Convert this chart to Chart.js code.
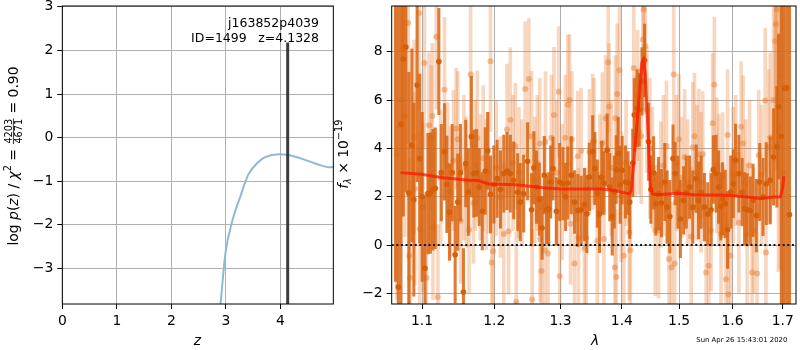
<!DOCTYPE html>
<html>
<head>
<meta charset="utf-8">
<script src="https://cdn.jsdelivr.net/npm/chart.js@4.4.1/dist/chart.umd.min.js"></script>
<style>
  html, body { margin: 0; padding: 0; background: #fff; }
  #wrap { position: relative; width: 800px; height: 350px; overflow: hidden; }
  #pzBox { position: absolute; left: 0; top: 0; width: 340px; height: 350px; }
  #specBox { position: absolute; left: 330px; top: 0; width: 470px; height: 350px; }
</style>
</head>
<body>
<div id="wrap">
  <div id="pzBox"><canvas id="pzChart" width="340" height="350"></canvas></div>
  <div id="specBox"><canvas id="specChart" width="470" height="350"></canvas></div>
</div>
<script>
const FONT = "'DejaVu Sans', sans-serif";

// ---- redshift probability panel ----
const Z_GRID = [2.80, 2.90, 2.99, 3.12, 3.26, 3.41, 3.57, 3.72, 3.97, 4.15, 4.40, 4.65, 4.90, 5.02];
const LOG_PZ = [-5.0, -3.83, -2.67, -1.90, -1.37, -0.85, -0.59, -0.45, -0.38, -0.40, -0.49, -0.60, -0.68, -0.66];
const Z_BEST = 4.1328;
const PZ_PEAK = 2.18;
const Z_RANGE = [0, 4.97];
const LOGP_RANGE = [-3.82, 3.02];
const Z_TICKS = [0, 1, 2, 3, 4];
const LOGP_TICKS = [-3, -2, -1, 0, 1, 2, 3];

// ---- spectrum panel (flux in 1e-19 units) ----
const WAVE_DARK = [1.0652,1.0688,1.0723,1.0753,1.0787,1.0826,1.0865,1.0891,1.0934,1.0969,
  1.1002,1.1039,1.1078,1.1110,1.1145,1.1177,1.1225,1.1258,1.1302,1.1334,
  1.1370,1.1407,1.1448,1.1484,1.1521,1.1563,1.1595,1.1632,1.1674,1.1709,
  1.1748,1.1786,1.1829,1.1871,1.1907,1.1947,1.1996,1.2043,1.2091,1.2140,
  1.2188,1.2236,1.2286,1.2345,1.2383,1.2434,1.2494,1.2554,1.2589,1.2629,
  1.2672,1.2714,1.2748,1.2781,1.2816,1.2847,1.2883,1.2935,1.2987,1.3038,
  1.3080,1.3116,1.3170,1.3222,1.3274,1.3328,1.3381,1.3421,1.3461,1.3515,
  1.3550,1.3591,1.3628,1.3664,1.3700,1.3754,1.3796,1.3837,1.3871,1.3904,
  1.3937,1.3970,1.4004,1.4059,1.4104,1.4133,1.4184,1.4211,1.4257,1.4296,
  1.4343,1.4389,1.4458,1.4498,1.4545,1.4585,1.4632,1.4685,1.4743,1.4784,
  1.4832,1.4891,1.4930,1.4979,1.5023,1.5083,1.5131,1.5191,1.5251,1.5313,
  1.5356,1.5405,1.5467,1.5528,1.5591,1.5634,1.5685,1.5734,1.5775,1.5809,
  1.5860,1.5904,1.5965,1.6013,1.6057,1.6122,1.6186,1.6234,1.6283,1.6348,
  1.6401,1.6465,1.6533,1.6598,1.6664,1.6744,1.6812,1.6879,1.6913,1.6970,
  1.7027,1.7082,1.7138];
const FLUX_DARK = [10.5,-1.74,5.0,7.7,8.2,2.15,4.13,1.88,6.63,3.58,
  2.0,-0.96,2.13,2.15,2.29,2.35,7.6,3.0,3.86,2.51,
  1.36,3.0,-0.4,1.78,3.0,-1.94,3.38,2.2,4.49,2.96,
  2.99,2.4,1.40,3.07,3.9,2.1,2.51,2.75,2.3,2.96,
  3.07,2.96,2.68,2.19,1.78,2.13,3.47,1.46,3.2,2.4,
  1.9,0.71,2.9,1.46,1.5,2.61,3.17,1.40,2.61,2.54,
  2.0,2.57,2.89,1.78,1.43,1.46,1.68,1.29,2.82,3.86,
  3.17,2.13,1.29,2.8,2.57,3.93,2.4,1.18,2.2,3.13,
  3.79,2.5,3.10,2.61,2.57,1.78,3.40,5.39,5.67,5.6,
  6.78,7.65,4.28,2.3,2.99,1.71,2.13,1.74,2.61,1.57,
  1.18,3.58,2.96,2.19,1.08,1.85,2.19,2.40,1.57,2.75,
  1.85,2.19,1.57,1.29,1.46,3.13,2.96,2.40,1.6,1.92,
  1.71,0.63,2.2,2.54,3.51,2.96,2.19,1.5,1.46,1.43,
  1.85,1.22,2.61,1.99,2.54,2.68,3.65,4.07,5.74,4.5,
  6.5,6.5,1.26];
const ERR_DARK = [12,12,10,6.5,6,5,4,4,4,3.5,
  3.5,3,2.5,2.5,2.5,2.5,2.2,2,2,2,
  2,2,2,2,2,1.8,1.8,1.8,2.5,1.8,
  1.8,1.6,1.6,1.8,1.6,1.6,1.6,1.6,1.6,1.6,
  1.6,1.6,1.6,1.6,1.6,1.6,1.6,1.5,1.5,1.5,
  1.5,1.3,1.6,1.4,1.5,1.5,1.3,1.4,1.6,1.5,
  1.4,1.5,1.6,1.3,1.5,1.4,1.5,1.6,1.4,1.5,
  1.5,1.4,1.6,1.5,1.3,1.5,1.4,1.6,1.5,1.4,
  1.5,1.6,1.4,1.5,1.3,1.5,1.4,1.5,1.6,1.5,
  1.4,1.5,1.6,1.4,1.5,1.3,1.5,1.4,1.6,1.5,
  1.5,1.4,1.3,1.5,1.6,1.4,1.5,1.3,1.5,1.4,
  1.6,1.5,1.4,1.3,1.5,1.4,1.6,1.5,1.4,1.5,
  1.4,1.6,1.5,1.4,1.5,1.6,1.4,1.5,1.5,1.4,
  1.5,1.5,1.6,1.6,1.7,1.8,2.0,2.5,3,8,
  12,12,12];

const WAVE_LIGHT = [1.0668,1.0723,1.0753,1.0774,1.0817,1.0830,1.0839,1.0895,1.0904,1.0960,
  1.0969,1.1013,1.1031,1.1058,1.1092,1.1124,1.1137,1.1145,1.1191,1.1212,
  1.1249,1.1302,1.1343,1.1384,1.1425,1.1462,1.1484,1.1525,1.1570,1.1604,
  1.1642,1.1664,1.1702,1.1730,1.1758,1.1800,1.1843,1.1885,1.1914,1.1947,
  1.1964,1.1986,1.2029,1.2091,1.2140,1.2188,1.2210,1.2236,1.2276,1.2310,
  1.2324,1.2364,1.2409,1.2458,1.2513,1.2554,1.2563,1.2604,1.2641,1.2679,
  1.2687,1.2705,1.2755,1.2766,1.2805,1.2858,1.2898,1.2940,1.2971,1.2987,
  1.3026,1.3075,1.3116,1.3143,1.3159,1.3179,1.3222,1.3274,1.3285,1.3328,
  1.3381,1.3408,1.3461,1.3515,1.3537,1.3591,1.3632,1.3673,1.3700,1.3727,
  1.3771,1.3783,1.3821,1.3882,1.3892,1.3904,1.3920,1.3959,1.3987,1.4032,
  1.4071,1.4126,1.4143,1.4201,1.4223,1.4266,1.4291,1.4331,1.4360,1.4372,
  1.4400,1.4429,1.4481,1.4524,1.4573,1.4632,1.4673,1.4717,1.4773,1.4819,
  1.4862,1.4903,1.4921,1.4956,1.4998,1.5047,1.5101,1.5155,1.5222,1.5251,
  1.5282,1.5328,1.5361,1.5402,1.5435,1.5498,1.5546,1.5591,1.5621,1.5653,
  1.5700,1.5737,1.5779,1.5809,1.5873,1.5904,1.5917,1.5961,1.6013,1.6060,
  1.6122,1.6166,1.6205,1.6254,1.6283,1.6332,1.6381,1.6411,1.6479,1.6513,
  1.6569,1.6644,1.6658,1.6712,1.6744,1.6812,1.6844,1.6858,1.6879,1.6909,
  1.6950,1.7001];
const FLUX_LIGHT = [3.76,6.0,8.13,5.35,9.2,-0.44,-1.35,4.49,2.33,9.6,
  0.67,1.57,7.54,-1.35,4.96,4.43,5.35,0.74,8.63,-2.15,
  2.8,6.43,3.3,2.2,3.5,4.83,4.38,1.01,3.2,2.6,
  0.63,7.06,1.74,3.3,4.42,2.8,3.6,2.5,3.0,7.61,
  -0.72,-0.26,3.2,1.99,0.46,4.79,0.57,5.18,3.4,4.10,
  -2.35,3.0,2.6,6.46,6.88,4.51,-2.25,2.7,3.4,4.21,
  0.25,-1.07,-0.21,4.28,-0.35,4.44,5.39,3.0,6.35,-1.29,
  2.2,4.44,5.81,6.01,0.88,4.38,-0.76,3.68,0.29,3.90,
  -0.13,0.29,3.86,4.28,4.31,0.18,2.9,4.24,0.25,5.25,
  7.57,5.74,3.2,-0.93,5.25,-1.32,6.26,7.24,2.0,-0.44,
  3.4,0.53,-0.21,7.33,4.5,6.2,4.7,4.51,8.51,9.76,
  8.24,5.6,4.0,3.2,0.60,0.60,2.5,3.3,4.10,-0.58,
  -0.93,7.06,-0.76,3.4,4.38,2.8,3.65,2.6,0.35,4.04,
  4.51,3.0,3.76,2.6,3.76,-1.14,-0.86,0.60,5.04,6.64,
  3.3,2.7,0.46,2.89,-1.42,4.56,-2.04,-0.44,2.9,3.5,
  0.94,4.9,4.21,2.6,0.46,3.3,-1.14,0.60,-1.18,3.72,
  2.9,5.99,-0.31,4.07,4.46,6.01,8.44,9.14,9.76,4.9,
  7.0,3.0];
const ERR_LIGHT = [6,6,5,5,5,4,4,4,4,4,
  4,3.5,3.5,3.5,3,3,3,3,3,3,
  2.8,3.0,2.6,2.7,2.9,2.5,2.8,2.6,3.0,2.7,
  2.6,2.9,2.5,2.7,2.8,2.6,3.0,2.7,2.5,2.9,
  2.7,2.6,2.8,2.5,2.9,2.7,2.6,3.0,2.8,2.6,
  2.9,2.7,2.6,2.8,2.5,2.7,2.9,2.6,2.8,2.7,
  2.6,2.8,2.5,2.9,2.7,2.6,2.8,3.0,2.7,2.6,
  2.8,2.6,2.9,2.7,2.5,2.8,2.6,2.7,2.9,2.6,
  2.7,2.9,2.6,2.8,2.6,2.7,2.5,2.9,2.8,2.6,
  2.9,2.6,2.8,2.7,2.6,2.8,2.9,2.6,2.7,2.5,
  2.6,2.8,2.7,2.9,2.5,2.7,2.6,2.8,2.9,2.7,
  2.8,2.6,2.9,2.5,2.7,2.8,2.6,2.9,2.7,2.6,
  2.7,2.9,2.6,2.8,2.7,2.5,2.8,2.6,2.9,2.7,
  2.6,2.8,2.7,2.9,2.6,2.8,2.7,2.5,2.9,2.8,
  2.8,2.7,2.9,2.6,2.8,2.7,2.9,2.6,2.8,2.7,
  2.9,2.7,2.8,2.6,2.9,2.7,2.8,2.6,2.9,2.7,
  2.9,3.0,3.0,3.2,3.5,4,5,6,6,6,
  8,10];

const WAVE_MODEL = [1.0718,1.099,1.128,1.165,1.176,1.193,1.231,1.277,1.302,1.366,1.388,1.413,1.416,
  1.422,1.430,1.434,1.437,1.440,1.445,1.449,1.453,1.462,1.498,1.528,1.590,1.628,1.655,1.681,1.695,1.700,1.702];
const FLUX_MODEL = [3.0,2.93,2.79,2.68,2.67,2.53,2.5,2.36,2.32,2.32,2.26,2.12,2.26,
  3.93,6.29,7.54,7.68,7.1,4.6,2.4,2.12,2.08,2.15,2.08,2.06,1.99,1.93,1.99,1.99,2.4,2.85];

const LAMBDA_RANGE = [1.0604, 1.7273];
const FLUX_RANGE = [-2.44, 9.90];
const LAMBDA_TICKS = [1.1, 1.2, 1.3, 1.4, 1.5, 1.6, 1.7];
const FLUX_TICKS = [-2, 0, 2, 4, 6, 8];

const DARK = 'rgb(214,96,10)';
const DARK_BAR = 'rgba(216,100,16,0.85)';
const LIGHT_BAR = 'rgba(232,130,60,0.32)';
const LIGHT_DOT = 'rgba(232,130,60,0.5)';

Chart.defaults.font.family = FONT;

const minus = v => (v < 0 ? '\u2212' + Math.abs(v) : String(v));

function setTicks(values) {
  return scale => { scale.ticks = values.map(v => ({ value: v })); };
}
function fixedAxis(size) {
  return scale => {
    if (scale.isHorizontal()) scale.height = size; else scale.width = size;
    scale.paddingLeft = scale.paddingRight = scale.paddingTop = scale.paddingBottom = 0;
  };
}
function axisStyle(range, ticks, size, fmt) {
  return {
    min: range[0], max: range[1],
    offset: false,
    afterBuildTicks: setTicks(ticks),
    afterFit: fixedAxis(size),
    border: { display: false },
    grid: { offset: false, color: '#b0b0b0', lineWidth: 1, tickColor: '#000', tickLength: 5, tickWidth: 1 },
    ticks: { color: '#000', font: { size: 13.9 }, padding: 4, autoSkip: false, maxRotation: 0, callback: fmt }
  };
}

// axes box drawn on all four sides
const frame = {
  id: 'frame',
  afterDatasetsDraw(chart) {
    const { ctx, chartArea: a } = chart;
    ctx.save();
    ctx.strokeStyle = '#000';
    ctx.lineWidth = 1;
    ctx.strokeRect(a.left, a.top, a.right - a.left, a.bottom - a.top);
    ctx.restore();
  }
};

// small mathtext-like writer: runs of text, super/subscripts and a stacked fraction
function runWidth(ctx, r, base) {
  if (r.frac) {
    ctx.font = (0.7 * base) + 'px ' + FONT;
    return Math.max(ctx.measureText(r.frac[0]).width, ctx.measureText(r.frac[1]).width) + 2;
  }
  ctx.font = (r.italic ? 'italic ' : '') + base * (r.scale || 1) + 'px ' + FONT;
  return ctx.measureText(r.text).width;
}
function drawMath(ctx, runs, x, y, base, rotate) {
  ctx.save();
  ctx.translate(x, y);
  if (rotate) ctx.rotate(-Math.PI / 2);
  ctx.fillStyle = '#000';
  ctx.textBaseline = 'alphabetic';
  const widths = runs.map(r => runWidth(ctx, r, base));
  let cx = -widths.reduce((a, b) => a + b, 0) / 2;
  runs.forEach((r, i) => {
    const w = widths[i];
    if (r.frac) {
      const axis = -0.3 * base;
      ctx.font = (0.7 * base) + 'px ' + FONT;
      ctx.textAlign = 'center';
      ctx.fillText(r.frac[0], cx + w / 2, axis - 1.6);
      ctx.fillText(r.frac[1], cx + w / 2, axis + 1.6 + 0.73 * 0.7 * base);
      ctx.fillRect(cx + 0.5, axis - 0.4, w - 1, 0.8);
    } else {
      ctx.textAlign = 'left';
      ctx.font = (r.italic ? 'italic ' : '') + base * (r.scale || 1) + 'px ' + FONT;
      ctx.fillText(r.text, cx, -(r.rise || 0) * base);
    }
    cx += w;
  });
  ctx.restore();
}

const pzText = {
  id: 'pzText',
  afterDraw(chart) {
    const ctx = chart.ctx;
    ctx.save();
    ctx.fillStyle = '#000';
    ctx.font = '12.5px ' + FONT;
    ctx.textAlign = 'right';
    ctx.textBaseline = 'alphabetic';
    ctx.fillText('j163852p4039', 319, 27.3);
    ctx.fillText('z=4.1328', 319, 41.7);
    ctx.fillText('ID=1499', 246.7, 41.7);
    ctx.font = 'italic 13.9px ' + FONT;
    ctx.textAlign = 'center';
    ctx.fillText('z', 197.5, 345);
    ctx.restore();
    drawMath(ctx, [
      { text: 'log ' }, { text: 'p', italic: true }, { text: '(' }, { text: 'z', italic: true },
      { text: ') / ' }, { text: '\u03c7', italic: true }, { text: '2', scale: 0.7, rise: 0.45 },
      { text: ' = ' }, { frac: ['4203', '4671'] }, { text: ' = 0.90' }
    ], 17.5, 156, 13.9, true);
  }
};

const specText = {
  id: 'specText',
  afterDraw(chart) {
    const ctx = chart.ctx;
    ctx.save();
    ctx.fillStyle = '#000';
    ctx.font = 'italic 13.9px ' + FONT;
    ctx.textAlign = 'center';
    ctx.fillText('\u03bb', 265, 345);
    ctx.font = '6.9px ' + FONT;
    ctx.textAlign = 'right';
    ctx.fillText('Sun Apr 26 15:43:01 2020', 457.3, 342.3);
    ctx.restore();
    drawMath(ctx, [
      { text: 'f', italic: true }, { text: '\u03bb', italic: true, scale: 0.7, rise: -0.22 },
      { text: ' \u00d7 10' }, { text: '\u221219', scale: 0.7, rise: 0.45 }
    ], 18.3, 154.2, 13.9, true);
  }
};

new Chart(document.getElementById('pzChart'), {
  type: 'scatter',
  data: {
    datasets: [
      {
        type: 'line', order: 0,
        data: [{ x: Z_BEST, y: LOGP_RANGE[0] }, { x: Z_BEST, y: PZ_PEAK }],
        borderColor: 'rgba(40,40,40,0.9)', borderWidth: 3, pointRadius: 0
      },
      {
        type: 'line', order: 1,
        data: Z_GRID.map((z, i) => ({ x: z, y: LOG_PZ[i] })),
        borderColor: '#8cb9da', borderWidth: 2, pointRadius: 0, cubicInterpolationMode: 'monotone'
      }
    ]
  },
  options: {
    responsive: false, animation: false, events: [],
    layout: { padding: { left: 0, top: 6, right: 6.67, bottom: 0 } },
    plugins: { legend: { display: false }, tooltip: { enabled: false } },
    scales: {
      x: Object.assign({ type: 'linear' }, axisStyle(Z_RANGE, Z_TICKS, 46, v => String(v))),
      y: Object.assign({ type: 'linear' }, axisStyle(LOGP_RANGE, LOGP_TICKS, 62.33, minus))
    }
  },
  plugins: [frame, pzText]
});

const errorBars = (w, f, e) => w.map((x, i) => ({ x: x, y: [f[i] - e[i], f[i] + e[i]] }));
const points = (w, f) => w.map((x, i) => ({ x: x, y: f[i] }));

new Chart(document.getElementById('specChart'), {
  type: 'scatter',
  data: {
    datasets: [
      {
        type: 'line', order: 0,
        data: [{ x: LAMBDA_RANGE[0], y: 0 }, { x: LAMBDA_RANGE[1], y: 0 }],
        borderColor: '#111', borderWidth: 2, borderDash: [2, 2.6], pointRadius: 0
      },
      {
        type: 'line', order: 1,
        data: points(WAVE_MODEL, FLUX_MODEL),
        borderColor: 'rgba(255,20,0,0.72)', borderWidth: 3, pointRadius: 0, tension: 0
      },
      {
        type: 'scatter', order: 2,
        data: points(WAVE_DARK, FLUX_DARK),
        backgroundColor: DARK, pointRadius: 2.8, pointBorderWidth: 0
      },
      {
        type: 'bar', order: 3,
        data: errorBars(WAVE_DARK, FLUX_DARK, ERR_DARK),
        backgroundColor: DARK_BAR, borderWidth: 0, barThickness: 2.4, grouped: false
      },
      {
        type: 'scatter', order: 4,
        data: points(WAVE_LIGHT, FLUX_LIGHT),
        backgroundColor: LIGHT_DOT, pointRadius: 3, pointBorderWidth: 0
      },
      {
        type: 'bar', order: 5,
        data: errorBars(WAVE_LIGHT, FLUX_LIGHT, ERR_LIGHT),
        backgroundColor: LIGHT_BAR, borderWidth: 0, barThickness: 3, grouped: false
      }
    ]
  },
  options: {
    responsive: false, animation: false, events: [],
    layout: { padding: { left: 0, top: 6, right: 0.7, bottom: 0 } },
    plugins: { legend: { display: false }, tooltip: { enabled: false } },
    scales: {
      x: Object.assign({ type: 'logarithmic' }, axisStyle(LAMBDA_RANGE, LAMBDA_TICKS, 46, v => Number(v).toFixed(1))),
      y: Object.assign({ type: 'linear' }, axisStyle(FLUX_RANGE, FLUX_TICKS, 61.7, minus))
    }
  },
  plugins: [frame, specText]
});
</script>
</body>
</html>
